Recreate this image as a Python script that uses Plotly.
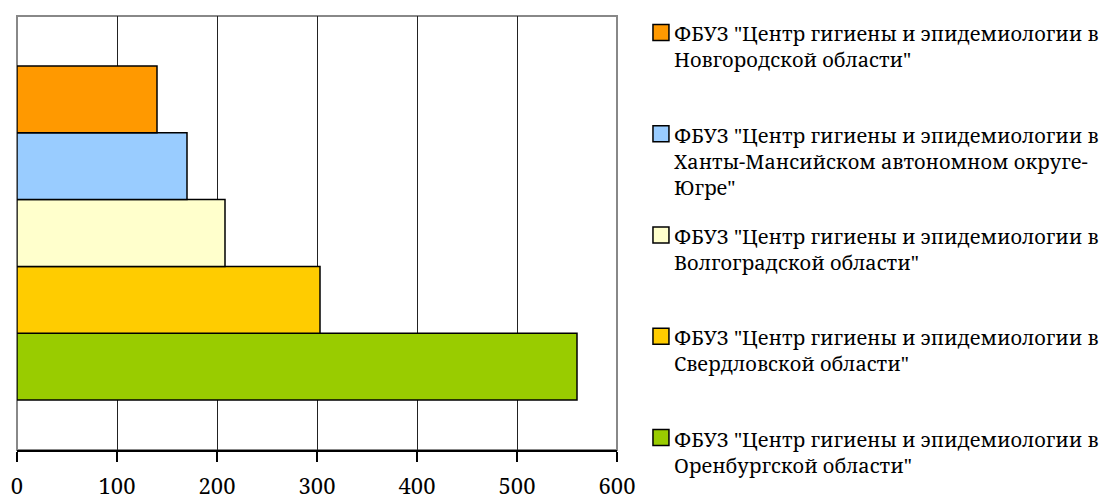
import plotly.graph_objects as go

# ---- data (bottom-to-top in the chart, i.e. Excel series order) ----
series_names = [
    'ФБУЗ "Центр гигиены и эпидемиологии в<br>Оренбургской области"',
    'ФБУЗ "Центр гигиены и эпидемиологии в<br>Свердловской области"',
    'ФБУЗ "Центр гигиены и эпидемиологии в<br>Волгоградской области"',
    'ФБУЗ "Центр гигиены и эпидемиологии в<br>Ханты-Мансийском автономном округе-<br>Югре"',
    'ФБУЗ "Центр гигиены и эпидемиологии в<br>Новгородской области"',
]
series_values = [560, 303, 208, 170, 140]
series_colors = ["#99CC00", "#FFCC00", "#FFFFCC", "#99CCFF", "#FF9900"]
category = [""]
x_ticks = [0, 100, 200, 300, 400, 500, 600]

OFF = 8  # default page body margin
W, H = 1110 - OFF, 499 - OFF
L, R, T, B = 16.5 - OFF, 617.0 - OFF, 15.5 - OFF, 450.5 - OFF
FONT = "Noto Serif"

fig = go.Figure()
for name, val, col in zip(series_names, series_values, series_colors):
    fig.add_trace(go.Bar(
        y=category, x=[val], orientation="h", name=name,
        marker=dict(color=col, line=dict(color="black", width=1.5)),
        showlegend=False,
    ))

def px2paper_x(px):
    return (px - OFF - L) / (R - L)

def px2paper_y(py):
    return (B - (py - OFF)) / (B - T)

# legend drawn from the same series arrays (top to bottom = reversed order)
shapes = []
annotations = []
for i, (name, col) in enumerate(zip(series_names[::-1], series_colors[::-1])):
    cy = 32 + 101.5 * i
    shapes.append(dict(
        type="rect", xref="paper", yref="paper",
        x0=px2paper_x(653), x1=px2paper_x(669),
        y0=px2paper_y(cy - 8), y1=px2paper_y(cy + 8),
        fillcolor=col, line=dict(color="black", width=1.5), layer="above",
    ))
    annotations.append(dict(
        xref="paper", yref="paper", x=px2paper_x(672), y=px2paper_y(cy - 14),
        xanchor="left", yanchor="top", align="left", showarrow=False,
        text=name, font=dict(family=FONT, size=20, color="black"),
    ))

shapes.append(dict(type="rect", xref="paper", yref="paper", x0=0, x1=1, y0=0, y1=1,
                   line=dict(color="#888888", width=2), layer="below"))

fig.update_layout(
    template="none",
    width=W, height=H,
    margin=dict(l=L, r=W - R, t=T, b=H - B, pad=0, autoexpand=False),
    paper_bgcolor="white", plot_bgcolor="white",
    barmode="group", bargap=0.23, bargroupgap=0,
    showlegend=False,
    font=dict(family=FONT, color="black"),
    shapes=shapes, annotations=annotations,
    xaxis=dict(
        automargin=False,
        range=[0, 600], tickvals=x_ticks, ticktext=[str(v) for v in x_ticks],
        showgrid=True, gridcolor="#222222", gridwidth=1,
        showline=True, linecolor="black", linewidth=2,
        ticks="outside", ticklen=10, tickcolor="black", tickwidth=2,
        zeroline=False,
        tickfont=dict(family=FONT, size=22, color="black"),
        ticklabelstandoff=6,
    ),
    yaxis=dict(
        automargin=False,
        range=[-0.5, 0.5], showticklabels=False, showgrid=False,
        zeroline=False, showline=False, ticks="",
    ),
)

fig.write_html("out.html")
